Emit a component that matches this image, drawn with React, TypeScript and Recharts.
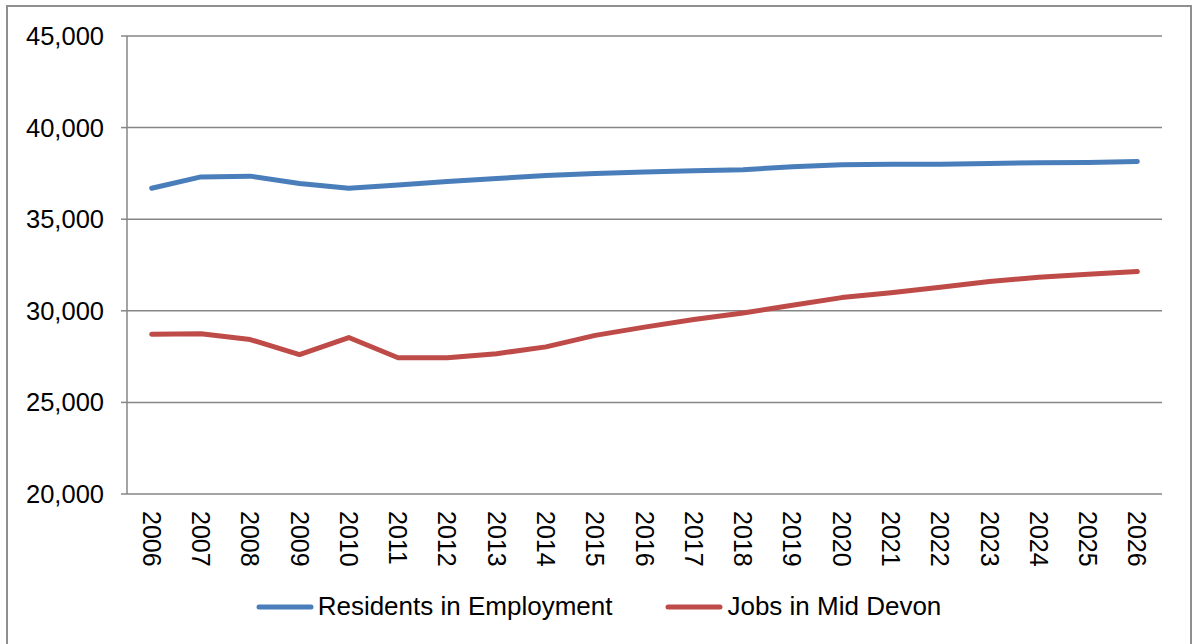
import React from "react";
import { LineChart, Line, XAxis, YAxis, CartesianGrid, Legend } from "recharts";

const years = [
  "2006", "2007", "2008", "2009", "2010", "2011", "2012", "2013", "2014", "2015", "2016",
  "2017", "2018", "2019", "2020", "2021", "2022", "2023", "2024", "2025", "2026",
];

const residentsInEmployment = [
  36690, 37310, 37350, 36950, 36690, 36870, 37060, 37220, 37390, 37490, 37570,
  37640, 37700, 37860, 37970, 38000, 38000, 38040, 38080, 38100, 38150,
];

const jobsInMidDevon = [
  28720, 28750, 28430, 27610, 28540, 27440, 27440, 27660, 28030, 28660, 29110,
  29520, 29880, 30300, 30720, 30990, 31280, 31600, 31830, 32000, 32140,
];

const yTicks = [20000, 25000, 30000, 35000, 40000, 45000];

const series = [
  { key: "residents", name: "Residents in Employment", color: "#4A7EBB" },
  { key: "jobs", name: "Jobs in Mid Devon", color: "#BE4B48" },
];

const data = years.map((year, i) => ({
  idx: i,
  year,
  residents: residentsInEmployment[i],
  jobs: jobsInMidDevon[i],
}));

const labelTicks = years.map((_, i) => i);
const boundaryTicks = [...years.map((_, i) => i - 0.5), years.length - 0.5];

const FONT = "'Liberation Sans', Arial, sans-serif";
const AXIS_GREY = "#868686";

const YearTick = (props: any) => {
  const { x, y, payload } = props;
  return (
    <text
      x={x}
      y={y}
      transform={`rotate(90, ${x}, ${y})`}
      textAnchor="start"
      dominantBaseline="central"
      fontFamily={FONT}
      fontSize={25}
      fill="#000"
    >
      {years[payload.value]}
    </text>
  );
};

const ChartLegend = () => (
  <div
    style={{
      display: "flex",
      justifyContent: "center",
      alignItems: "center",
      fontFamily: FONT,
      fontSize: 26,
      color: "#000",
    }}
  >
    {series.map((s, i) => (
      <div
        key={s.key}
        style={{ display: "flex", alignItems: "center", marginLeft: i === 0 ? 0 : 53 }}
      >
        <svg width={58} height={12} style={{ marginRight: 4 }}>
          <line
            x1={3}
            y1={6}
            x2={55}
            y2={6}
            stroke={s.color}
            strokeWidth={5}
            strokeLinecap="round"
          />
        </svg>
        <span>{s.name}</span>
      </div>
    ))}
  </div>
);

export default function App() {
  return (
    <div style={{ position: "absolute", left: 0, top: 0, width: 1197, height: 644 }}>
      <div
        style={{
          position: "absolute",
          left: 6,
          top: 5,
          width: 1186,
          height: 642,
          border: "2px solid #8f8f8f",
          boxSizing: "border-box",
        }}
      />
      <LineChart
        width={1197}
        height={644}
        data={data}
        margin={{ top: 36, right: 35, left: 0, bottom: 0 }}
      >
        <CartesianGrid vertical={false} stroke={AXIS_GREY} strokeWidth={1.5} />
        <XAxis
          xAxisId="main"
          dataKey="idx"
          type="number"
          domain={[-0.5, years.length - 0.5]}
          ticks={boundaryTicks}
          tickFormatter={() => ""}
          tickSize={7}
          height={0}
          stroke={AXIS_GREY}
          strokeWidth={1.5}
          axisLine={{ stroke: AXIS_GREY, strokeWidth: 1.5 }}
          tickLine={{ stroke: AXIS_GREY, strokeWidth: 1.5 }}
        />
        <XAxis
          xAxisId="labels"
          dataKey="idx"
          type="number"
          domain={[-0.5, years.length - 0.5]}
          ticks={labelTicks}
          tick={<YearTick />}
          tickLine={false}
          axisLine={false}
          tickSize={7}
          tickMargin={10}
          height={150}
          interval={0}
        />
        <YAxis
          domain={[20000, 45000]}
          ticks={yTicks}
          width={127}
          tickSize={6}
          tickMargin={17}
          tickFormatter={(v: number) => v.toLocaleString("en-US")}
          tick={{ fontFamily: FONT, fontSize: 25.5, fill: "#000" }}
          axisLine={{ stroke: AXIS_GREY, strokeWidth: 1.5 }}
          tickLine={{ stroke: AXIS_GREY, strokeWidth: 1.5 }}
        />
        <Legend
          layout="horizontal"
          verticalAlign="middle"
          align="center"
          content={<ChartLegend />}
          wrapperStyle={{ top: 591, left: 0, width: 1197 }}
        />
        {series.map((s) => (
          <Line
            key={s.key}
            xAxisId="main"
            type="linear"
            dataKey={s.key}
            name={s.name}
            stroke={s.color}
            strokeWidth={5}
            strokeLinecap="round"
            strokeLinejoin="round"
            dot={false}
            activeDot={false}
            isAnimationActive={false}
          />
        ))}
      </LineChart>
    </div>
  );
}
